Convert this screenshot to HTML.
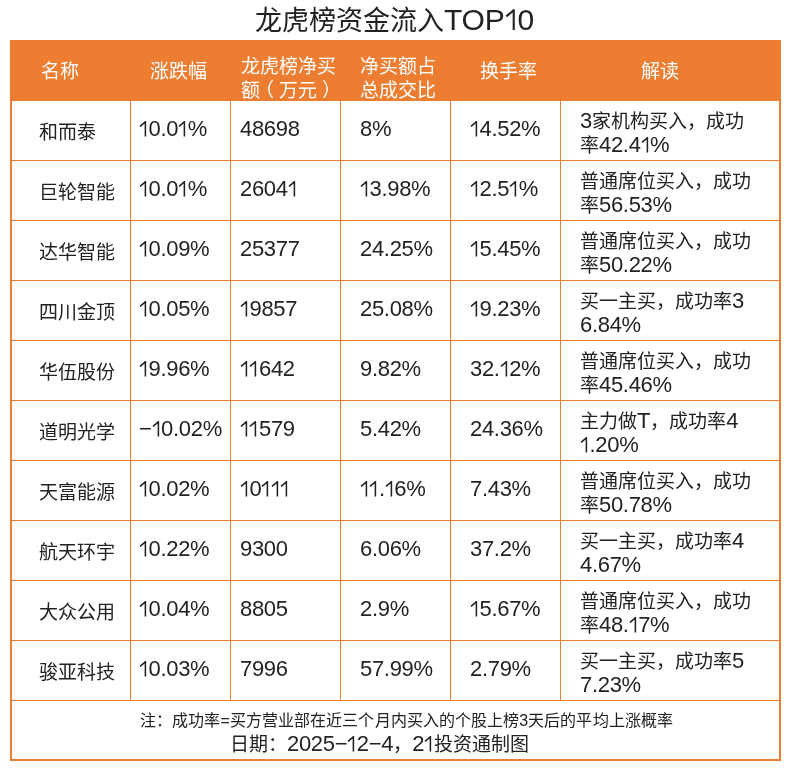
<!DOCTYPE html>
<html lang="zh-CN"><head><meta charset="utf-8">
<style>
html,body{margin:0;padding:0;background:#fff;}
body{width:790px;height:770px;position:relative;overflow:hidden;font-family:"Liberation Sans",sans-serif;color:#222;}
.t{position:absolute;white-space:nowrap;will-change:transform;}
.n{font-size:22px;line-height:0;letter-spacing:-0.3px}
.m{font-size:22px;line-height:0;letter-spacing:-0.3px}
.one{width:0.4318em;height:0.7em;vertical-align:baseline;overflow:visible}
.one path{fill:none;stroke:currentColor;stroke-width:1.55}
.b{position:absolute;background:#ED7D31;}
</style></head><body>
<div class="t" style="left:255.00px;top:8.14px;font-size:27px;line-height:27px">龙虎榜资金流入<span style="font-size:30px;line-height:0;letter-spacing:-0.2px">TOP<svg class="one" viewBox="0 0 9.5 15.4"><path d="M1 5.4L6.4 0.9M6.4 0.1V15.4"/></svg>0</span></div>
<div class="b" style="left:10px;top:40px;width:771px;height:61px"></div>
<div class="b" style="left:10px;top:40px;width:2px;height:721px"></div>
<div class="b" style="left:779px;top:40px;width:2px;height:721px"></div>
<div class="b" style="left:10px;top:759px;width:771px;height:2px"></div>
<div class="b" style="left:130px;top:101px;width:1px;height:599px"></div>
<div class="b" style="left:230px;top:101px;width:1px;height:599px"></div>
<div class="b" style="left:340px;top:101px;width:1px;height:599px"></div>
<div class="b" style="left:450px;top:101px;width:1px;height:599px"></div>
<div class="b" style="left:560px;top:101px;width:1px;height:599px"></div>
<div class="b" style="left:10px;top:160px;width:771px;height:1px"></div>
<div class="b" style="left:10px;top:220px;width:771px;height:1px"></div>
<div class="b" style="left:10px;top:280px;width:771px;height:1px"></div>
<div class="b" style="left:10px;top:340px;width:771px;height:1px"></div>
<div class="b" style="left:10px;top:400px;width:771px;height:1px"></div>
<div class="b" style="left:10px;top:460px;width:771px;height:1px"></div>
<div class="b" style="left:10px;top:520px;width:771px;height:1px"></div>
<div class="b" style="left:10px;top:580px;width:771px;height:1px"></div>
<div class="b" style="left:10px;top:640px;width:771px;height:1px"></div>
<div class="b" style="left:10px;top:700px;width:771px;height:1px"></div>
<div class="t" style="left:41.00px;top:61.62px;font-size:19px;line-height:19px;color:#fff">名称</div>
<div class="t" style="left:150.00px;top:61.62px;font-size:19px;line-height:19px;color:#fff">涨跌幅</div>
<div class="t" style="left:240.50px;top:56.52px;font-size:19px;line-height:19px;color:#fff">龙虎榜净买</div>
<div class="t" style="left:240.50px;top:80.52px;font-size:19px;line-height:19px;color:#fff">额<span style="position:relative;left:-5px">（</span>万元<span style="position:relative;left:5px">）</span></div>
<div class="t" style="left:360.00px;top:56.52px;font-size:19px;line-height:19px;color:#fff">净买额占</div>
<div class="t" style="left:360.00px;top:80.52px;font-size:19px;line-height:19px;color:#fff">总成交比</div>
<div class="t" style="left:480.00px;top:61.62px;font-size:19px;line-height:19px;color:#fff">换手率</div>
<div class="t" style="left:640.50px;top:61.62px;font-size:19px;line-height:19px;color:#fff">解读</div>
<div class="t" style="left:39.00px;top:122.82px;font-size:19px;line-height:19px">和而泰</div>
<div class="t" style="left:139.00px;top:117.88px;font-size:22px;line-height:22px;letter-spacing:-0.3px"><svg class="one" viewBox="0 0 9.5 15.4"><path d="M1 5.4L6.4 0.9M6.4 0.1V15.4"/></svg>0.0<svg class="one" viewBox="0 0 9.5 15.4"><path d="M1 5.4L6.4 0.9M6.4 0.1V15.4"/></svg>%</div>
<div class="t" style="left:240.00px;top:117.88px;font-size:22px;line-height:22px;letter-spacing:-0.3px">48698</div>
<div class="t" style="left:360.00px;top:117.88px;font-size:22px;line-height:22px;letter-spacing:-0.3px">8%</div>
<div class="t" style="left:470.00px;top:117.88px;font-size:22px;line-height:22px;letter-spacing:-0.3px"><svg class="one" viewBox="0 0 9.5 15.4"><path d="M1 5.4L6.4 0.9M6.4 0.1V15.4"/></svg>4.52%</div>
<div class="t" style="left:580.00px;top:111.62px;font-size:19px;line-height:19px"><span class="n">3</span>家机构买入，成功</div>
<div class="t" style="left:580.00px;top:135.62px;font-size:19px;line-height:19px">率<span class="n">42.4<svg class="one" viewBox="0 0 9.5 15.4"><path d="M1 5.4L6.4 0.9M6.4 0.1V15.4"/></svg>%</span></div>
<div class="t" style="left:39.00px;top:182.82px;font-size:19px;line-height:19px">巨轮智能</div>
<div class="t" style="left:139.00px;top:177.88px;font-size:22px;line-height:22px;letter-spacing:-0.3px"><svg class="one" viewBox="0 0 9.5 15.4"><path d="M1 5.4L6.4 0.9M6.4 0.1V15.4"/></svg>0.0<svg class="one" viewBox="0 0 9.5 15.4"><path d="M1 5.4L6.4 0.9M6.4 0.1V15.4"/></svg>%</div>
<div class="t" style="left:240.00px;top:177.88px;font-size:22px;line-height:22px;letter-spacing:-0.3px">2604<svg class="one" viewBox="0 0 9.5 15.4"><path d="M1 5.4L6.4 0.9M6.4 0.1V15.4"/></svg></div>
<div class="t" style="left:360.00px;top:177.88px;font-size:22px;line-height:22px;letter-spacing:-0.3px"><svg class="one" viewBox="0 0 9.5 15.4"><path d="M1 5.4L6.4 0.9M6.4 0.1V15.4"/></svg>3.98%</div>
<div class="t" style="left:470.00px;top:177.88px;font-size:22px;line-height:22px;letter-spacing:-0.3px"><svg class="one" viewBox="0 0 9.5 15.4"><path d="M1 5.4L6.4 0.9M6.4 0.1V15.4"/></svg>2.5<svg class="one" viewBox="0 0 9.5 15.4"><path d="M1 5.4L6.4 0.9M6.4 0.1V15.4"/></svg>%</div>
<div class="t" style="left:580.00px;top:171.62px;font-size:19px;line-height:19px">普通席位买入，成功</div>
<div class="t" style="left:580.00px;top:195.62px;font-size:19px;line-height:19px">率<span class="n">56.53%</span></div>
<div class="t" style="left:39.00px;top:242.82px;font-size:19px;line-height:19px">达华智能</div>
<div class="t" style="left:139.00px;top:237.88px;font-size:22px;line-height:22px;letter-spacing:-0.3px"><svg class="one" viewBox="0 0 9.5 15.4"><path d="M1 5.4L6.4 0.9M6.4 0.1V15.4"/></svg>0.09%</div>
<div class="t" style="left:240.00px;top:237.88px;font-size:22px;line-height:22px;letter-spacing:-0.3px">25377</div>
<div class="t" style="left:360.00px;top:237.88px;font-size:22px;line-height:22px;letter-spacing:-0.3px">24.25%</div>
<div class="t" style="left:470.00px;top:237.88px;font-size:22px;line-height:22px;letter-spacing:-0.3px"><svg class="one" viewBox="0 0 9.5 15.4"><path d="M1 5.4L6.4 0.9M6.4 0.1V15.4"/></svg>5.45%</div>
<div class="t" style="left:580.00px;top:231.62px;font-size:19px;line-height:19px">普通席位买入，成功</div>
<div class="t" style="left:580.00px;top:255.62px;font-size:19px;line-height:19px">率<span class="n">50.22%</span></div>
<div class="t" style="left:39.00px;top:302.82px;font-size:19px;line-height:19px">四川金顶</div>
<div class="t" style="left:139.00px;top:297.88px;font-size:22px;line-height:22px;letter-spacing:-0.3px"><svg class="one" viewBox="0 0 9.5 15.4"><path d="M1 5.4L6.4 0.9M6.4 0.1V15.4"/></svg>0.05%</div>
<div class="t" style="left:240.00px;top:297.88px;font-size:22px;line-height:22px;letter-spacing:-0.3px"><svg class="one" viewBox="0 0 9.5 15.4"><path d="M1 5.4L6.4 0.9M6.4 0.1V15.4"/></svg>9857</div>
<div class="t" style="left:360.00px;top:297.88px;font-size:22px;line-height:22px;letter-spacing:-0.3px">25.08%</div>
<div class="t" style="left:470.00px;top:297.88px;font-size:22px;line-height:22px;letter-spacing:-0.3px"><svg class="one" viewBox="0 0 9.5 15.4"><path d="M1 5.4L6.4 0.9M6.4 0.1V15.4"/></svg>9.23%</div>
<div class="t" style="left:580.00px;top:291.62px;font-size:19px;line-height:19px">买一主买，成功率<span class="n">3</span></div>
<div class="t" style="left:580.00px;top:315.62px;font-size:19px;line-height:19px"><span class="n">6.84%</span></div>
<div class="t" style="left:39.00px;top:362.82px;font-size:19px;line-height:19px">华伍股份</div>
<div class="t" style="left:139.00px;top:357.88px;font-size:22px;line-height:22px;letter-spacing:-0.3px"><svg class="one" viewBox="0 0 9.5 15.4"><path d="M1 5.4L6.4 0.9M6.4 0.1V15.4"/></svg>9.96%</div>
<div class="t" style="left:240.00px;top:357.88px;font-size:22px;line-height:22px;letter-spacing:-0.3px"><svg class="one" viewBox="0 0 9.5 15.4"><path d="M1 5.4L6.4 0.9M6.4 0.1V15.4"/></svg><svg class="one" viewBox="0 0 9.5 15.4"><path d="M1 5.4L6.4 0.9M6.4 0.1V15.4"/></svg>642</div>
<div class="t" style="left:360.00px;top:357.88px;font-size:22px;line-height:22px;letter-spacing:-0.3px">9.82%</div>
<div class="t" style="left:470.00px;top:357.88px;font-size:22px;line-height:22px;letter-spacing:-0.3px">32.<svg class="one" viewBox="0 0 9.5 15.4"><path d="M1 5.4L6.4 0.9M6.4 0.1V15.4"/></svg>2%</div>
<div class="t" style="left:580.00px;top:351.62px;font-size:19px;line-height:19px">普通席位买入，成功</div>
<div class="t" style="left:580.00px;top:375.62px;font-size:19px;line-height:19px">率<span class="n">45.46%</span></div>
<div class="t" style="left:39.00px;top:422.82px;font-size:19px;line-height:19px">道明光学</div>
<div class="t" style="left:139.00px;top:417.88px;font-size:22px;line-height:22px;letter-spacing:-0.3px">−<svg class="one" viewBox="0 0 9.5 15.4"><path d="M1 5.4L6.4 0.9M6.4 0.1V15.4"/></svg>0.02%</div>
<div class="t" style="left:240.00px;top:417.88px;font-size:22px;line-height:22px;letter-spacing:-0.3px"><svg class="one" viewBox="0 0 9.5 15.4"><path d="M1 5.4L6.4 0.9M6.4 0.1V15.4"/></svg><svg class="one" viewBox="0 0 9.5 15.4"><path d="M1 5.4L6.4 0.9M6.4 0.1V15.4"/></svg>579</div>
<div class="t" style="left:360.00px;top:417.88px;font-size:22px;line-height:22px;letter-spacing:-0.3px">5.42%</div>
<div class="t" style="left:470.00px;top:417.88px;font-size:22px;line-height:22px;letter-spacing:-0.3px">24.36%</div>
<div class="t" style="left:580.00px;top:411.62px;font-size:19px;line-height:19px">主力做<span class="n">T</span>，成功率<span class="n">4</span></div>
<div class="t" style="left:580.00px;top:435.62px;font-size:19px;line-height:19px"><span class="n"><svg class="one" viewBox="0 0 9.5 15.4"><path d="M1 5.4L6.4 0.9M6.4 0.1V15.4"/></svg>.20%</span></div>
<div class="t" style="left:39.00px;top:482.82px;font-size:19px;line-height:19px">天富能源</div>
<div class="t" style="left:139.00px;top:477.88px;font-size:22px;line-height:22px;letter-spacing:-0.3px"><svg class="one" viewBox="0 0 9.5 15.4"><path d="M1 5.4L6.4 0.9M6.4 0.1V15.4"/></svg>0.02%</div>
<div class="t" style="left:240.00px;top:477.88px;font-size:22px;line-height:22px;letter-spacing:-0.3px"><svg class="one" viewBox="0 0 9.5 15.4"><path d="M1 5.4L6.4 0.9M6.4 0.1V15.4"/></svg>0<svg class="one" viewBox="0 0 9.5 15.4"><path d="M1 5.4L6.4 0.9M6.4 0.1V15.4"/></svg><svg class="one" viewBox="0 0 9.5 15.4"><path d="M1 5.4L6.4 0.9M6.4 0.1V15.4"/></svg><svg class="one" viewBox="0 0 9.5 15.4"><path d="M1 5.4L6.4 0.9M6.4 0.1V15.4"/></svg></div>
<div class="t" style="left:360.00px;top:477.88px;font-size:22px;line-height:22px;letter-spacing:-0.3px"><svg class="one" viewBox="0 0 9.5 15.4"><path d="M1 5.4L6.4 0.9M6.4 0.1V15.4"/></svg><svg class="one" viewBox="0 0 9.5 15.4"><path d="M1 5.4L6.4 0.9M6.4 0.1V15.4"/></svg>.<svg class="one" viewBox="0 0 9.5 15.4"><path d="M1 5.4L6.4 0.9M6.4 0.1V15.4"/></svg>6%</div>
<div class="t" style="left:470.00px;top:477.88px;font-size:22px;line-height:22px;letter-spacing:-0.3px">7.43%</div>
<div class="t" style="left:580.00px;top:471.62px;font-size:19px;line-height:19px">普通席位买入，成功</div>
<div class="t" style="left:580.00px;top:495.62px;font-size:19px;line-height:19px">率<span class="n">50.78%</span></div>
<div class="t" style="left:39.00px;top:542.82px;font-size:19px;line-height:19px">航天环宇</div>
<div class="t" style="left:139.00px;top:537.88px;font-size:22px;line-height:22px;letter-spacing:-0.3px"><svg class="one" viewBox="0 0 9.5 15.4"><path d="M1 5.4L6.4 0.9M6.4 0.1V15.4"/></svg>0.22%</div>
<div class="t" style="left:240.00px;top:537.88px;font-size:22px;line-height:22px;letter-spacing:-0.3px">9300</div>
<div class="t" style="left:360.00px;top:537.88px;font-size:22px;line-height:22px;letter-spacing:-0.3px">6.06%</div>
<div class="t" style="left:470.00px;top:537.88px;font-size:22px;line-height:22px;letter-spacing:-0.3px">37.2%</div>
<div class="t" style="left:580.00px;top:531.62px;font-size:19px;line-height:19px">买一主买，成功率<span class="n">4</span></div>
<div class="t" style="left:580.00px;top:555.62px;font-size:19px;line-height:19px"><span class="n">4.67%</span></div>
<div class="t" style="left:39.00px;top:602.82px;font-size:19px;line-height:19px">大众公用</div>
<div class="t" style="left:139.00px;top:597.88px;font-size:22px;line-height:22px;letter-spacing:-0.3px"><svg class="one" viewBox="0 0 9.5 15.4"><path d="M1 5.4L6.4 0.9M6.4 0.1V15.4"/></svg>0.04%</div>
<div class="t" style="left:240.00px;top:597.88px;font-size:22px;line-height:22px;letter-spacing:-0.3px">8805</div>
<div class="t" style="left:360.00px;top:597.88px;font-size:22px;line-height:22px;letter-spacing:-0.3px">2.9%</div>
<div class="t" style="left:470.00px;top:597.88px;font-size:22px;line-height:22px;letter-spacing:-0.3px"><svg class="one" viewBox="0 0 9.5 15.4"><path d="M1 5.4L6.4 0.9M6.4 0.1V15.4"/></svg>5.67%</div>
<div class="t" style="left:580.00px;top:591.62px;font-size:19px;line-height:19px">普通席位买入，成功</div>
<div class="t" style="left:580.00px;top:615.62px;font-size:19px;line-height:19px">率<span class="n">48.<svg class="one" viewBox="0 0 9.5 15.4"><path d="M1 5.4L6.4 0.9M6.4 0.1V15.4"/></svg>7%</span></div>
<div class="t" style="left:39.00px;top:662.82px;font-size:19px;line-height:19px">骏亚科技</div>
<div class="t" style="left:139.00px;top:657.88px;font-size:22px;line-height:22px;letter-spacing:-0.3px"><svg class="one" viewBox="0 0 9.5 15.4"><path d="M1 5.4L6.4 0.9M6.4 0.1V15.4"/></svg>0.03%</div>
<div class="t" style="left:240.00px;top:657.88px;font-size:22px;line-height:22px;letter-spacing:-0.3px">7996</div>
<div class="t" style="left:360.00px;top:657.88px;font-size:22px;line-height:22px;letter-spacing:-0.3px">57.99%</div>
<div class="t" style="left:470.00px;top:657.88px;font-size:22px;line-height:22px;letter-spacing:-0.3px">2.79%</div>
<div class="t" style="left:580.00px;top:651.62px;font-size:19px;line-height:19px">买一主买，成功率<span class="n">5</span></div>
<div class="t" style="left:580.00px;top:675.62px;font-size:19px;line-height:19px"><span class="n">7.23%</span></div>
<div class="t" style="left:140.00px;top:712.96px;font-size:16px;line-height:16px;letter-spacing:0.08px">注：成功率=买方营业部在近三个月内买入的个股上榜3天后的平均上涨概率</div>
<div class="t" style="left:229.50px;top:735.22px;font-size:19px;line-height:19px">日期：<span class="m">2025−<svg class="one" viewBox="0 0 9.5 15.4"><path d="M1 5.4L6.4 0.9M6.4 0.1V15.4"/></svg>2−4</span>，<span class="m">2<svg class="one" viewBox="0 0 9.5 15.4"><path d="M1 5.4L6.4 0.9M6.4 0.1V15.4"/></svg></span>投资通制图</div>
</body></html>
